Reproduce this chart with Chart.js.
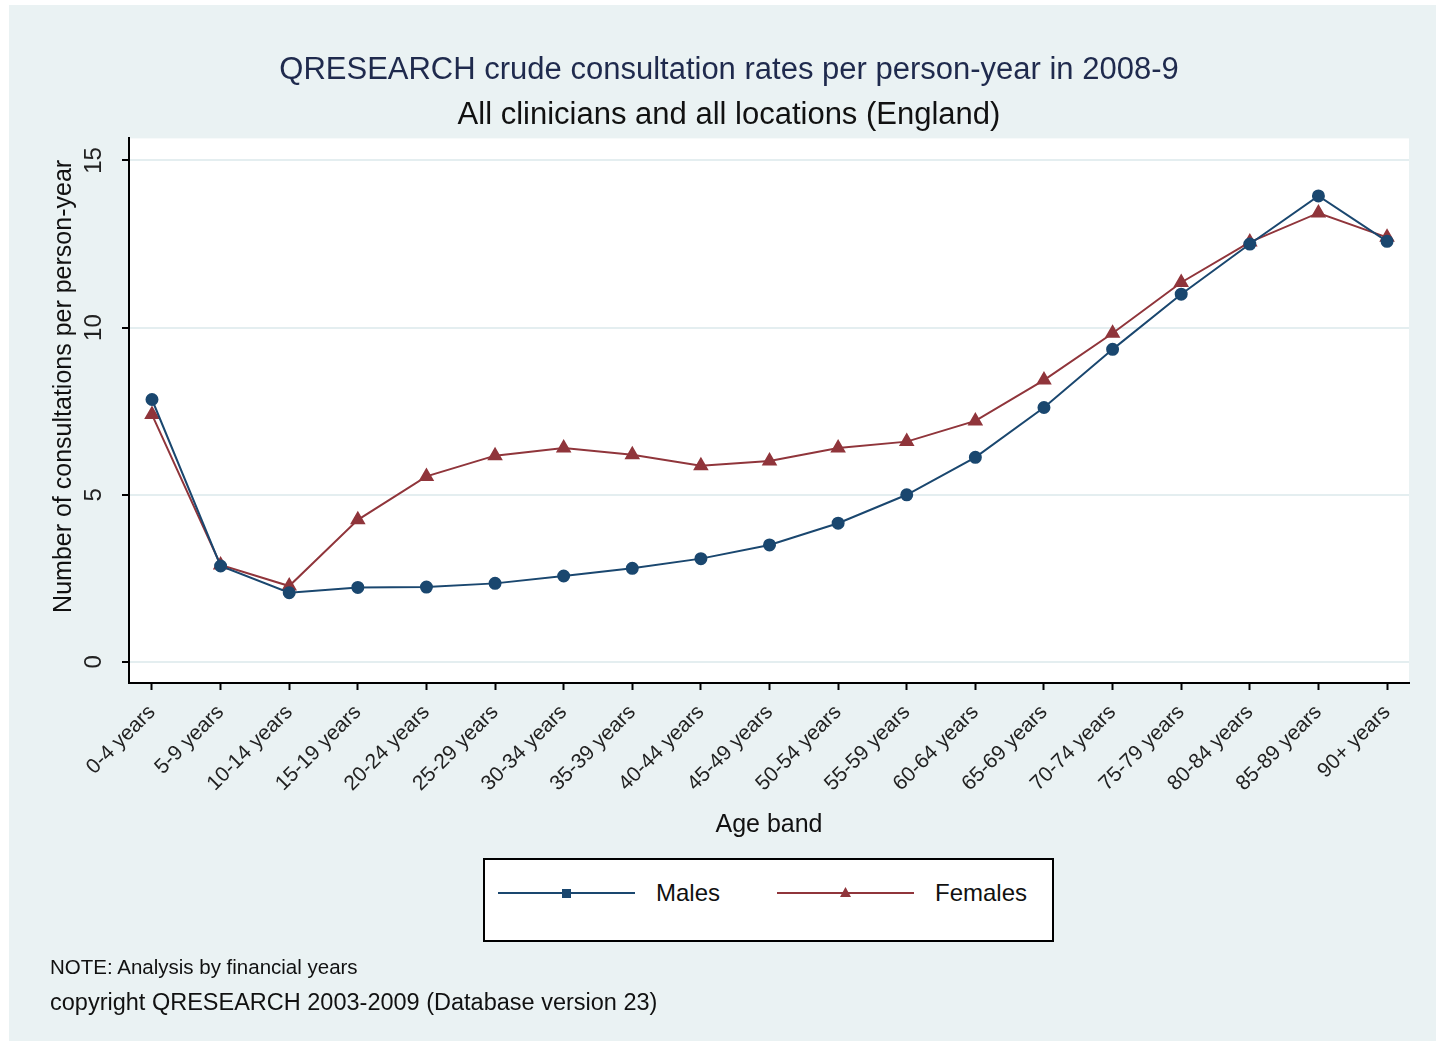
<!DOCTYPE html>
<html>
<head>
<meta charset="utf-8">
<title>QRESEARCH consultation rates</title>
<script src="https://cdn.jsdelivr.net/npm/chart.js@4.4.1/dist/chart.umd.min.js"></script>
<style>
  body { margin: 0; background: #fff; font-family: "Liberation Sans", Arial, sans-serif; }
  #frame { position: absolute; left: 9px; top: 5px; width: 1427px; height: 1036px; background: #eaf2f3; }
  #chart { position: absolute; left: 0; top: 0; }
  #legend { position: absolute; left: 474px; top: 853px; width: 571px; height: 84px; box-sizing: border-box;
            background: #fff; border: 2px solid #000; }
  #legend svg { position: absolute; top: 22px; }
  #legend span { position: absolute; top: 19px; font-size: 24px; color: #111; white-space: nowrap; }
  .note { position: absolute; left: 41px; color: #111; white-space: nowrap; }
</style>
</head>
<body>
<div id="frame">
  <canvas id="chart" width="1427" height="1036"></canvas>
  <div id="legend"></div>
  <div class="note" style="top:950px;font-size:20.5px;">NOTE: Analysis by financial years</div>
  <div class="note" style="top:984px;font-size:23.5px;">copyright QRESEARCH 2003-2009 (Database version 23)</div>
</div>
<script>
const ageBands = ['0-4 years', '5-9 years', '10-14 years', '15-19 years', '20-24 years', '25-29 years',
  '30-34 years', '35-39 years', '40-44 years', '45-49 years', '50-54 years', '55-59 years',
  '60-64 years', '65-69 years', '70-74 years', '75-79 years', '80-84 years', '85-89 years', '90+ years'];
const males = [7.85, 2.87, 2.07, 2.23, 2.24, 2.35, 2.57, 2.80, 3.09, 3.50, 4.15, 5.00,
  6.12, 7.61, 9.35, 11.0, 12.5, 13.94, 12.58];
const females = [7.40, 2.90, 2.27, 4.25, 5.55, 6.17, 6.40, 6.20, 5.87, 6.01, 6.40, 6.59,
  7.21, 8.43, 9.83, 11.35, 12.56, 13.43, 12.70];
const yTicks = [0, 5, 10, 15];

Chart.defaults.font.family = '"Liberation Sans", Arial, sans-serif';
Chart.defaults.color = '#222';

// white plot region on the tinted background
const plotBg = {
  id: 'plotBg',
  beforeDraw(chart) {
    const a = chart.chartArea;
    chart.ctx.save();
    chart.ctx.fillStyle = '#fff';
    chart.ctx.fillRect(a.left, a.top, a.right - a.left, a.bottom - a.top);
    chart.ctx.restore();
  }
};

const chart = new Chart(document.querySelector('#chart'), {
  type: 'line',
  data: {
    datasets: [
      {
        label: 'Males',
        data: males.map((v, i) => ({ x: i, y: v })),
        borderColor: '#1a476f',
        backgroundColor: '#1a476f',
        borderWidth: 2,
        pointStyle: 'circle',
        pointRadius: 5.5,
        legendMarker: 'square'
      },
      {
        label: 'Females',
        data: females.map((v, i) => ({ x: i, y: v })),
        borderColor: '#90353b',
        backgroundColor: '#90353b',
        borderWidth: 2,
        pointStyle: 'triangle',
        pointRadius: 7,
        legendMarker: 'triangle'
      }
    ]
  },
  options: {
    responsive: false,
    animation: false,
    layout: { padding: { left: 40, right: 27, top: 0, bottom: 201 } },
    plugins: {
      legend: { display: false },
      tooltip: { enabled: false },
      title: {
        display: true,
        text: 'QRESEARCH crude consultation rates per person-year in 2008-9',
        color: '#1f2a4d',
        font: { size: 31, weight: 'normal' },
        padding: { top: 47, bottom: 4 }
      },
      subtitle: {
        display: true,
        text: 'All clinicians and all locations (England)',
        color: '#111',
        font: { size: 31, weight: 'normal' },
        padding: { top: 4, bottom: 4 }
      }
    },
    scales: {
      x: {
        type: 'linear',
        min: -0.335,
        max: 18.32,
        afterBuildTicks: s => { s.ticks = ageBands.map((b, i) => ({ value: i })); },
        afterFit: s => { s.height = 157; },
        ticks: {
          callback: v => ageBands[v],
          autoSkip: false,
          minRotation: 45,
          maxRotation: 45,
          padding: 10,
          font: { size: 21 },
          color: '#222'
        },
        grid: { drawOnChartArea: false, tickLength: 7, tickColor: '#000', tickWidth: 2 },
        border: { color: '#000', width: 2 },
        title: { display: true, text: 'Age band', font: { size: 25 }, color: '#111', padding: 0 }
      },
      y: {
        min: -0.63,
        max: 15.66,
        afterBuildTicks: s => { s.ticks = yTicks.map(v => ({ value: v })); },
        afterFit: s => { s.width = 80; },
        ticks: {
          minRotation: 90,
          maxRotation: 90,
          crossAlign: 'center',
          padding: 14,
          font: { size: 24 },
          color: '#222'
        },
        grid: { color: '#e4eef0', lineWidth: 2, tickLength: 7, tickColor: '#000', tickWidth: 2 },
        border: { color: '#000', width: 2 },
        title: {
          display: true,
          text: '       Number of consultations per person-year',
          font: { size: 25 },
          color: '#111',
          padding: 0
        }
      }
    }
  },
  plugins: [plotBg]
});

// boxed legend below the axis title
const legendBox = document.querySelector('#legend');
const legendPos = [{ line: 13, text: 171 }, { line: 292, text: 450 }];
chart.data.datasets.forEach((ds, i) => {
  const p = legendPos[i];
  const marker = ds.legendMarker === 'square'
    ? `<rect x="64" y="7" width="9" height="9" fill="${ds.borderColor}"/>`
    : `<polygon points="68.5,5 74,15 63,15" fill="${ds.borderColor}"/>`;
  legendBox.insertAdjacentHTML('beforeend',
    `<svg style="left:${p.line}px" width="137" height="22"><line x1="0" y1="11" x2="137" y2="11" stroke="${ds.borderColor}" stroke-width="2"/>${marker}</svg>` +
    `<span style="left:${p.text}px">${ds.label}</span>`);
});
</script>
</body>
</html>
